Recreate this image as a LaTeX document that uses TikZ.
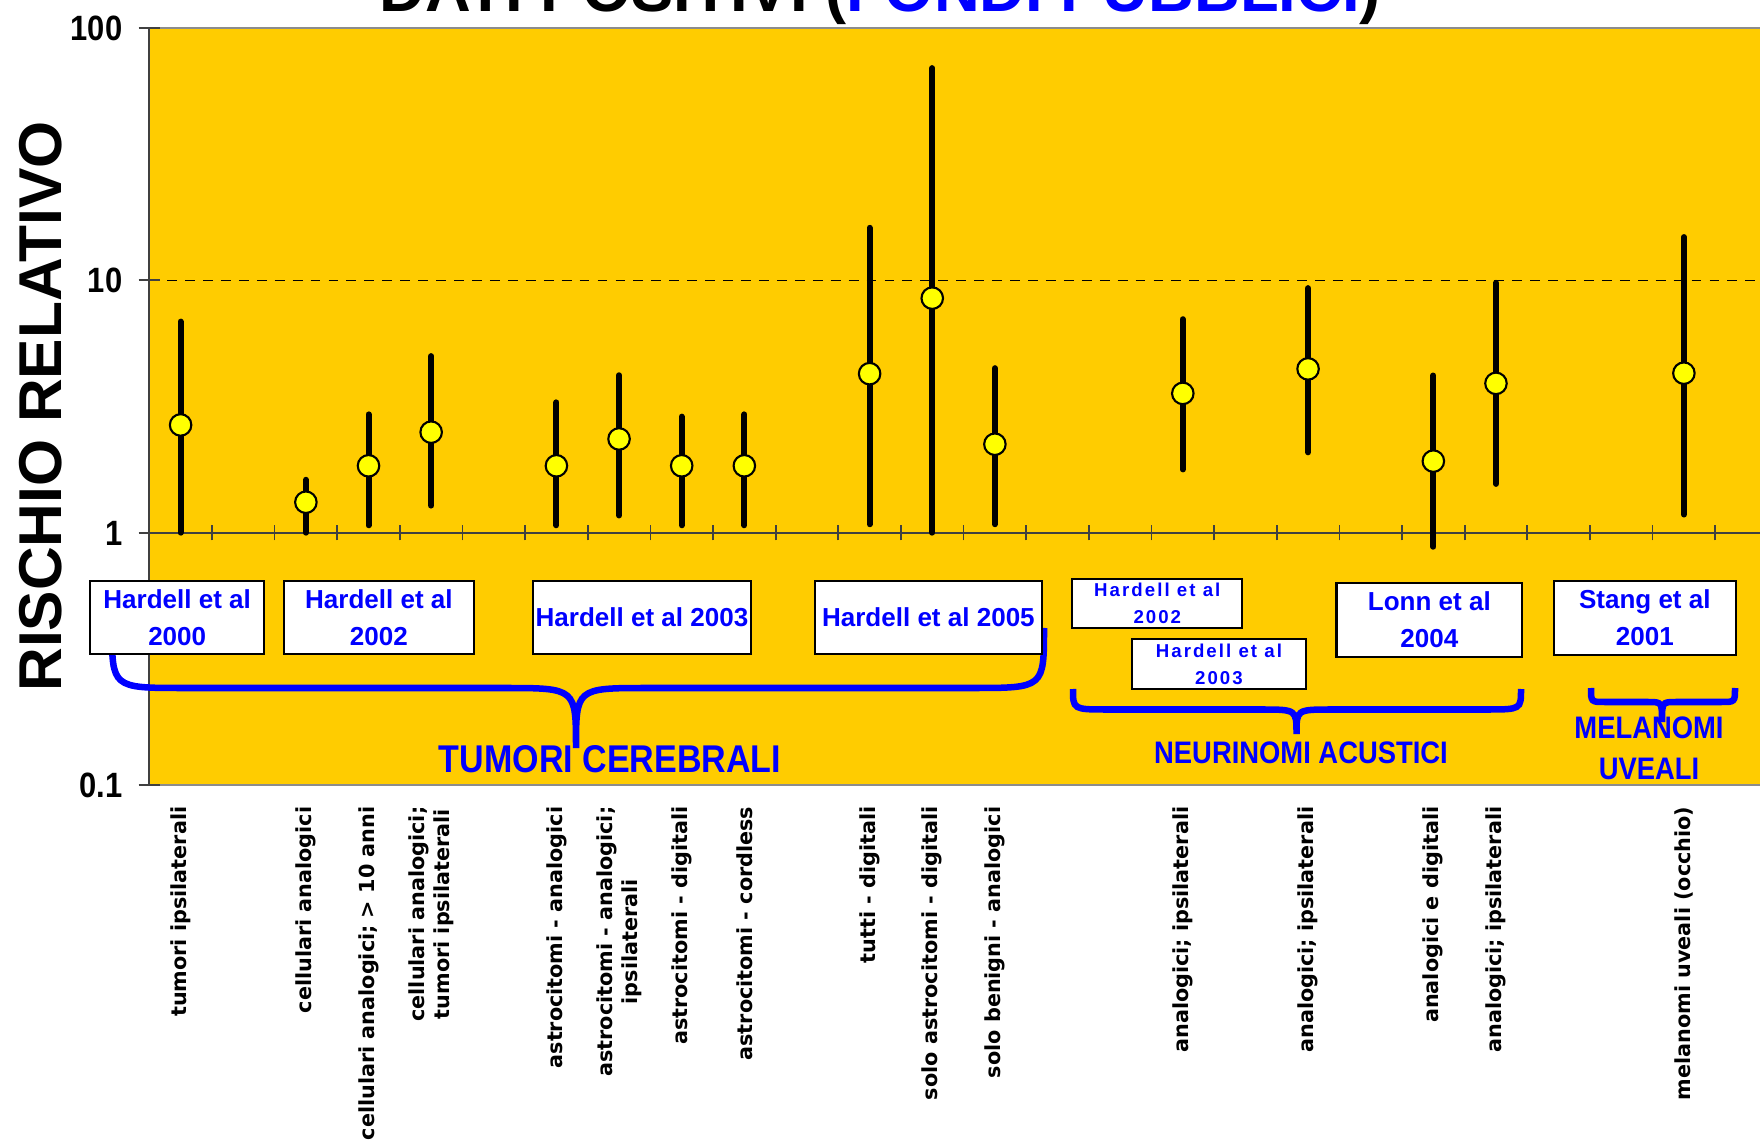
\documentclass[tikz,border=0pt]{standalone}
\usepackage{fontspec}
\setmainfont{Liberation Sans}
\newfontfamily\narrowfont[FakeStretch=0.88]{Liberation Sans}
\newfontfamily\spacedfont[LetterSpace=11]{Liberation Sans}
\newfontfamily\catfont{DejaVu Sans}
\usetikzlibrary{calc}
\definecolor{plotyellow}{HTML}{FFCC00}
\definecolor{dotyellow}{HTML}{FFFF00}
\definecolor{gblue}{HTML}{0000FF}

\begin{document}
\begin{tikzpicture}[x=0.01cm,y=-0.01cm]

\tikzset{axisline/.style={draw=black!75,line width=0.5pt}}
\tikzset{border/.style={draw=black!45,line width=0.6pt}}
\tikzset{bar/.style={draw,line width=1.7pt,line cap=round}}
\tikzset{dot/.style={draw,circle,fill=dotyellow,line width=0.6pt,inner sep=0pt,minimum size=0.215cm}}
\tikzset{grpbrace/.style={draw=gblue,line width=1.85pt}}
\tikzset{refbox/.style={draw,fill=white,line width=0.6pt,inner sep=0pt,text=gblue,align=center,font=\bfseries\fontsize{7.4}{10.5}\selectfont}}
\tikzset{smallbox/.style={refbox,font=\spacedfont\bfseries\fontsize{5.3}{7.6}\selectfont}}
\tikzset{grouplabel/.style={inner sep=0pt,text=gblue,align=center,font=\narrowfont\bfseries\fontsize{8.85}{11.7}\selectfont}}
\tikzset{ticklabel/.style={anchor=east,inner sep=0pt,font=\narrowfont\bfseries\fontsize{10}{12}\selectfont}}
\tikzset{catlabel/.style={rotate=90,anchor=east,inner sep=0pt,align=center,font=\catfont\bfseries\fontsize{5.9}{7.2}\selectfont}}

\useasboundingbox (0,0) rectangle (1760,1143);
\fill[white] (0,0) rectangle (1760,1143);

\node[anchor=base west,inner sep=0pt,font=\bfseries\fontsize{18}{20}\selectfont] (title) at (379,12) {DATI POSITIVI (\textcolor{gblue}{FONDI PUBBLICI})};

\fill[plotyellow] (149.2,28) rectangle (1760,785);
\path[border] (149.2,28) -- (1760,28);
\path[border] (149.2,785) -- (1760,785);
\draw[dash pattern=on 2.8pt off 2.3pt,line width=0.35pt] (149.2,280.3) -- (1760,280.3);
\path[axisline] (149.2,28) -- (149.2,785);
\path[axisline] (149.2,532.7) -- (1760,532.7);
\foreach \ty in {28,280.3,532.7,785}
  \path[axisline] (138.5,\ty) -- (160,\ty);

\node[rotate=90,font=\bfseries\fontsize{17.2}{19}\selectfont] (ylabel) at (41,406.5) {RISCHIO RELATIVO};
\node[ticklabel] (y100) at (123,28) {100};
\node[ticklabel] (y10) at (123,280.3) {10};
\node[ticklabel] (y1) at (123,533) {1};
\node[ticklabel] (y01) at (123,785) {0.1};

\path[grpbrace] (112,628) .. controls (112,688) .. (184,688) -- (504,688)
  .. controls (576,688) .. (576,748) .. controls (576,688) .. (648,688)
  -- (972,688) .. controls (1044,688) .. (1044,628);
\path[grpbrace] (1073,689) .. controls (1073,709.5) .. (1108,709.5) -- (1261,709.5)
  .. controls (1296.5,709.5) .. (1296.5,734) .. controls (1296.5,709.5) .. (1332,709.5)
  -- (1486,709.5) .. controls (1521,709.5) .. (1521,689);
\path[grpbrace] (1591,688) .. controls (1591,702) .. (1605,702) -- (1648,702)
  .. controls (1662,702) .. (1662,722) .. controls (1662,702) .. (1676,702)
  -- (1721,702) .. controls (1735,702) .. (1735,688);

\begin{scope}[shift={(180.6,532.7)},x=0.626cm,y=2.525cm]
\foreach \tx in {0.5,1.5,...,24.5}
  \path[axisline] (\tx,-0.03) -- (\tx,0.03);

\path[bar] (0,{log10(1.0)}) -- (0,{log10(6.85)});
\node[dot] (rr0) at (0,{log10(2.67)}) {};
\path[bar] (2,{log10(1.0)}) -- (2,{log10(1.62)});
\node[dot] (rr2) at (2,{log10(1.32)}) {};
\path[bar] (3,{log10(1.07)}) -- (3,{log10(2.94)});
\node[dot] (rr3) at (3,{log10(1.84)}) {};
\path[bar] (4,{log10(1.28)}) -- (4,{log10(5.0)});
\node[dot] (rr4) at (4,{log10(2.5)}) {};
\path[bar] (6,{log10(1.07)}) -- (6,{log10(3.28)});
\node[dot] (rr6) at (6,{log10(1.84)}) {};
\path[bar] (7,{log10(1.17)}) -- (7,{log10(4.2)});
\node[dot] (rr7) at (7,{log10(2.35)}) {};
\path[bar] (8,{log10(1.07)}) -- (8,{log10(2.88)});
\node[dot] (rr8) at (8,{log10(1.84)}) {};
\path[bar] (9,{log10(1.07)}) -- (9,{log10(2.94)});
\node[dot] (rr9) at (9,{log10(1.84)}) {};
\path[bar] (11,{log10(1.08)}) -- (11,{log10(16.1)});
\node[dot] (rr11) at (11,{log10(4.26)}) {};
\path[bar] (12,{log10(1.0)}) -- (12,{log10(69)});
\node[dot] (rr12) at (12,{log10(8.48)}) {};
\path[bar] (13,{log10(1.08)}) -- (13,{log10(4.48)});
\node[dot] (rr13) at (13,{log10(2.24)}) {};
\path[bar] (16,{log10(1.78)}) -- (16,{log10(7.0)});
\node[dot] (rr16) at (16,{log10(3.56)}) {};
\path[bar] (18,{log10(2.08)}) -- (18,{log10(9.29)});
\node[dot] (rr18) at (18,{log10(4.45)}) {};
\path[bar] (20,{log10(0.88)}) -- (20,{log10(4.19)});
\node[dot] (rr20) at (20,{log10(1.92)}) {};
\path[bar] (21,{log10(1.56)}) -- (21,{log10(9.75)});
\node[dot] (rr21) at (21,{log10(3.9)}) {};
\path[bar] (24,{log10(1.18)}) -- (24,{log10(14.8)});
\node[dot] (rr24) at (24,{log10(4.28)}) {};
\end{scope}

\node[refbox,minimum width=1.74cm,minimum height=0.736cm] (hardell00) at (177.2,617.5) {Hardell et al\\2000};
\node[refbox,minimum width=1.9cm,minimum height=0.736cm] (hardell02) at (378.9,617.5) {Hardell et al\\2002};
\node[refbox,minimum width=2.185cm,minimum height=0.736cm] (hardell03) at (642,617.5) {Hardell et al 2003};
\node[refbox,minimum width=2.273cm,minimum height=0.736cm] (hardell05) at (928.4,617.5) {Hardell et al 2005};
\node[smallbox,minimum width=1.7cm,minimum height=0.487cm] (hardellna02) at (1157.3,603.4) {Hardell et al\\2002};
\node[smallbox,minimum width=1.746cm,minimum height=0.5cm] (hardellna03) at (1218.9,664) {Hardell et al\\2003};
\node[refbox,minimum width=1.856cm,minimum height=0.734cm] (lonn04) at (1429.3,620) {Lonn et al\\2004};
\node[refbox,minimum width=1.814cm,minimum height=0.743cm] (stang01) at (1644.8,617.9) {Stang et al\\2001};

\node[grouplabel,font=\narrowfont\bfseries\fontsize{11}{13}\selectfont] (tumori) at (610,759) {TUMORI CEREBRALI};
\node[grouplabel] (neurinomi) at (1301,753) {NEURINOMI ACUSTICI};
\node[grouplabel] (melanomi) at (1649,748.5) {MELANOMI\\UVEALI};

\coordinate (catbase) at (0,806);
\node[catlabel] (cat0) at (rr0 |- catbase) {tumori ipsilaterali};
\node[catlabel] (cat2) at (rr2 |- catbase) {cellulari analogici};
\node[catlabel] (cat3) at (rr3 |- catbase) {cellulari analogici; > 10 anni};
\node[catlabel] (cat4) at (rr4 |- catbase) {cellulari analogici;\\tumori ipsilaterali};
\node[catlabel] (cat6) at (rr6 |- catbase) {astrocitomi - analogici};
\node[catlabel] (cat7) at (rr7 |- catbase) {astrocitomi - analogici;\\ipsilaterali};
\node[catlabel] (cat8) at (rr8 |- catbase) {astrocitomi - digitali};
\node[catlabel] (cat9) at (rr9 |- catbase) {astrocitomi - cordless};
\node[catlabel] (cat11) at (rr11 |- catbase) {tutti - digitali};
\node[catlabel] (cat12) at (rr12 |- catbase) {solo astrocitomi - digitali};
\node[catlabel] (cat13) at (rr13 |- catbase) {solo benigni - analogici};
\node[catlabel] (cat16) at (rr16 |- catbase) {analogici; ipsilaterali};
\node[catlabel] (cat18) at (rr18 |- catbase) {analogici; ipsilaterali};
\node[catlabel] (cat20) at (rr20 |- catbase) {analogici e digitali};
\node[catlabel] (cat21) at (rr21 |- catbase) {analogici; ipsilaterali};
\node[catlabel] (cat24) at (rr24 |- catbase) {melanomi uveali (occhio)};

\end{tikzpicture}
\end{document}
